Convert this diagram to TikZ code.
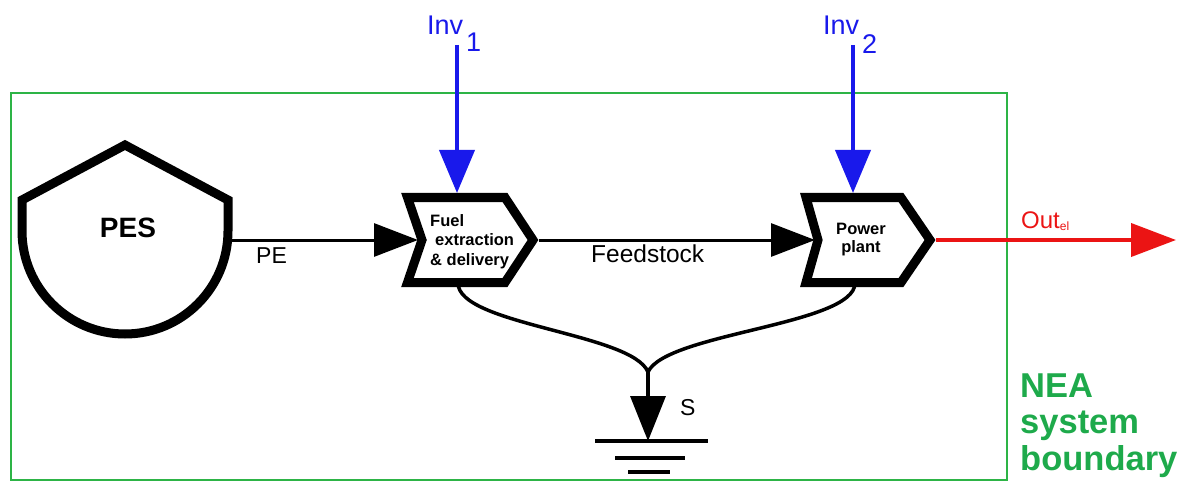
\documentclass[tikz,border=0pt]{standalone}
\usepackage{fontspec}
\setmainfont{Liberation Sans}
\usetikzlibrary{arrows.meta}
\definecolor{bgreen}{RGB}{45,180,70}
\definecolor{tgreen}{RGB}{30,170,75}
\definecolor{iblue}{RGB}{25,25,235}
\definecolor{ored}{RGB}{235,20,20}
\begin{document}
\begin{tikzpicture}[x=1pt,y=-1pt,
  procbox/.style={line width=9pt, fill=white, line join=miter},
  flowline/.style={line width=3pt, -{Triangle[length=44pt,width=33pt]}},
  invline/.style={iblue, line width=4pt, -{Triangle[length=43pt,width=35pt]}},
  outline/.style={ored, line width=4pt, -{Triangle[length=45pt,width=33pt]}},
  sinkline/.style={line width=3.5pt},
  gndline/.style={line width=4pt},
  lbl/.style={inner sep=0pt, font=\fontsize{23}{26}\selectfont},
  boxtxt/.style={inner sep=0pt, font=\bfseries\fontsize{16.5}{19}\selectfont},
  invtxt/.style={inner sep=0pt, iblue, anchor=base west, font=\fontsize{27}{30}\selectfont},
  neatxt/.style={inner sep=0pt, tgreen, anchor=base west, font=\bfseries\fontsize{34.5}{37}\selectfont}
]
\useasboundingbox (0,0) rectangle (1184,484);
% system boundary
\draw[bgreen, line width=2.5pt] (11,93) rectangle (1007,480);

% coordinates
\coordinate (pesR) at (230,240);
\coordinate (fuelL) at (418,240);
\coordinate (fuelR) at (539,240);
\coordinate (fuelT) at (457,193);
\coordinate (fuelB) at (458,283);
\coordinate (ppL) at (815,240);
\coordinate (ppR) at (936,240);
\coordinate (ppT) at (853,193);
\coordinate (ppB) at (855,283);
\coordinate (inv1top) at (457,45);
\coordinate (inv2top) at (853,45);
\coordinate (junc) at (648,372);
\coordinate (gnd) at (648,441);
\coordinate (outEnd) at (1176,240);

% connectors
\draw[flowline] (pesR) -- (fuelL);
\draw[flowline] (fuelR) -- (ppL);
\draw[invline] (inv1top) -- (fuelT);
\draw[invline] (inv2top) -- (ppT);
\draw[outline] (ppR) -- (outEnd);
\draw[sinkline] (fuelB) .. controls (458,325) and (632,333) .. (junc);
\draw[sinkline] (ppB) .. controls (855,325) and (666,333) .. (junc);
\draw[sinkline, -{Triangle[length=45pt,width=35pt]}] (junc) -- (gnd);

% ground symbol
\draw[gndline] (595,441) -- (708,441);
\draw[gndline] (615,458) -- (685,458);
\draw[gndline] (628,472) -- (670,472);

% PES shape
\draw[procbox] (22,200) -- (125,145) -- (228,200) -- (228,231)
  arc[start angle=0, end angle=180, radius=103] -- cycle;
% process boxes
\draw[procbox] (407.5,197.5) -- (505,197.5) -- (533,240) -- (505,282.5)
  -- (407.5,282.5) -- (422,240) -- cycle;
\draw[procbox] (806,197.5) -- (901,197.5) -- (930,240) -- (901,282.5)
  -- (806,282.5) -- (818,240) -- cycle;

% texts
\node[inner sep=0pt, anchor=base, font=\bfseries\fontsize{28}{30}\selectfont] (pes) at (128,237) {PES};
\node[boxtxt, anchor=base west] (fuel1) at (430,226) {Fuel};
\node[boxtxt, anchor=base west] (fuel2) at (435,245.5) {extraction};
\node[boxtxt, anchor=base west] (fuel3) at (430,265) {\& delivery};
\node[boxtxt, anchor=base] (pp1) at (861,234) {Power};
\node[boxtxt, anchor=base] (pp2) at (861,252.5) {plant};
\node[lbl, anchor=base west] (pe) at (256,263) {PE};
\node[lbl, anchor=base west, font=\fontsize{24.5}{26}\selectfont] (feed) at (591,262) {Feedstock};
\node[invtxt] (inv1) at (427,35) {Inv\kern3pt\raisebox{-17pt}{1}};
\node[invtxt] (inv2) at (823,35) {Inv\kern3pt\raisebox{-19pt}{2}};
\node[lbl, ored, anchor=base west, font=\fontsize{24}{26}\selectfont] (out) at (1021,228) {Out\raisebox{-2pt}{\fontsize{12}{12}\selectfont el}};
\node[lbl, anchor=base west] (s) at (680,415) {S};
\node[neatxt] (nea1) at (1020,397) {NEA};
\node[neatxt] (nea2) at (1020,433.5) {system};
\node[neatxt] (nea3) at (1020,470) {boundary};
\end{tikzpicture}
\end{document}
